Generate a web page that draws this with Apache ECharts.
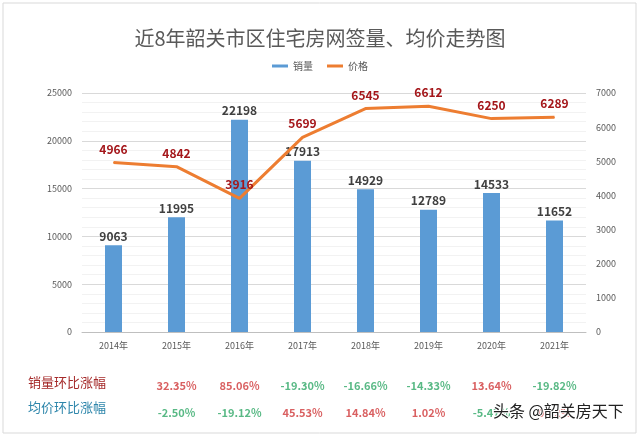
<!DOCTYPE html>
<html><head><meta charset="utf-8">
<script src="https://cdn.jsdelivr.net/npm/echarts@6/dist/echarts.min.js"></script>
<style>html,body{margin:0;padding:0;background:#fff}#c{width:640px;height:437px}</style>
</head><body><div id="c"></div>
<script>
const years = ['2014年','2015年','2016年','2017年','2018年','2019年','2020年','2021年'];
const sales = [9063, 11995, 22198, 17913, 14929, 12789, 14533, 11652];
const prices = [4966, 4842, 3916, 5699, 6545, 6612, 6250, 6289];
const salesChange = [null, '32.35%', '85.06%', '-19.30%', '-16.66%', '-14.33%', '13.64%', '-19.82%'];
const priceChange = [null, '-2.50%', '-19.12%', '45.53%', '14.84%', '1.02%', '-5.47%', '0.62%'];
const leftTicks = {min: 0, max: 25000, interval: 5000};
const rightTicks = {min: 0, max: 7000, interval: 1000};

const FONT = '"Noto Sans CJK SC", "Noto Sans", sans-serif';
const RED = '#D0383A', GREEN = '#2FA866';

function changePoints(arr, row) {
  const out = [];
  arr.forEach((v, i) => {
    if (v !== null) out.push({value: [i, row, v], label: {color: v.startsWith('-') ? GREEN : RED}});
  });
  return out;
}

const chart = echarts.init(document.getElementById('c'));
chart.setOption({
  animation: false,
  backgroundColor: '#fff',
  textStyle: {fontFamily: FONT},
  title: {
    text: '近8年韶关市区住宅房网签量、均价走势图',
    left: 'center', top: 23,
    textStyle: {fontSize: 20, fontWeight: 'normal', color: '#595959', fontFamily: FONT}
  },
  legend: {
    top: 56, left: 'center', itemWidth: 16, itemHeight: 3, itemGap: 14,
    textStyle: {fontSize: 10, color: '#595959'},
    data: [{name: '销量', icon: 'rect'}, {name: '价格', icon: 'rect'}]
  },
  grid: [
    {left: 82, right: 54, top: 93, height: 239},
    {left: 82, right: 54, top: 372, height: 54}
  ],
  xAxis: [
    {type: 'category', data: years, gridIndex: 0,
     axisLine: {lineStyle: {color: '#BFBFBF'}}, axisTick: {show: false},
     axisLabel: {fontSize: 9, color: '#595959', margin: 9}},
    {type: 'category', data: years, gridIndex: 1, show: false}
  ],
  yAxis: [
    {type: 'value', gridIndex: 0, ...leftTicks,
     axisLine: {show: false}, axisTick: {show: false},
     axisLabel: {fontSize: 9, color: '#595959', margin: 10, formatter: v => String(v)},
     splitLine: {lineStyle: {color: '#D9D9D9'}},
     minorTick: {show: false, splitNumber: 5},
     minorSplitLine: {show: true, lineStyle: {color: '#F2F2F2'}}},
    {type: 'value', gridIndex: 0, ...rightTicks, position: 'right',
     axisLine: {show: false}, axisTick: {show: false},
     axisLabel: {fontSize: 9, color: '#595959', margin: 10, formatter: v => String(v)},
     splitLine: {show: false}},
    {type: 'category', gridIndex: 1, data: ['均价', '销量'], show: false}
  ],
  series: [
    {name: '销量', type: 'bar', data: sales, xAxisIndex: 0, yAxisIndex: 0, barWidth: 17,
     itemStyle: {color: '#5B9BD5'},
     label: {show: true, position: 'top', distance: 3, fontSize: 12, fontWeight: 'bold', color: '#404040'}},
    {name: '价格', type: 'line', data: prices, xAxisIndex: 0, yAxisIndex: 1,
     showSymbol: true, symbol: 'circle', symbolSize: 1,
     lineStyle: {color: '#ED7D31', width: 3}, itemStyle: {color: '#ED7D31'},
     label: {show: true, position: 'top', distance: 7, fontSize: 12, fontWeight: 'bold', color: '#A4161A'}},
    {name: 'sc', type: 'scatter', xAxisIndex: 1, yAxisIndex: 2, symbolSize: 0,
     data: changePoints(salesChange, 1).concat(changePoints(priceChange, 0)),
     label: {show: true, position: 'inside', fontSize: 11, fontWeight: 'bold',
       formatter: p => p.value[2]},
     labelLayout: {hideOverlap: false}}
  ],
  graphic: [
    {type: 'rect', shape: {x: 3, y: 3, width: 633, height: 430}, style: {fill: 'none', stroke: '#D9D9D9', lineWidth: 1}, z: -1},
    {type: 'text', left: 28, top: 376, style: {text: '销量环比涨幅', fontSize: 13, fill: '#A52A2A', fontFamily: FONT}},
    {type: 'text', left: 28, top: 401, style: {text: '均价环比涨幅', fontSize: 13, fill: '#2E86AB', fontFamily: FONT}},
    {type: 'text', left: 492, top: 402, z: 100, style: {text: '头条 @韶关房天下', fontSize: 16, fill: '#222', fontFamily: FONT, stroke: '#fff', lineWidth: 2}}
  ]
});
</script></body></html>
